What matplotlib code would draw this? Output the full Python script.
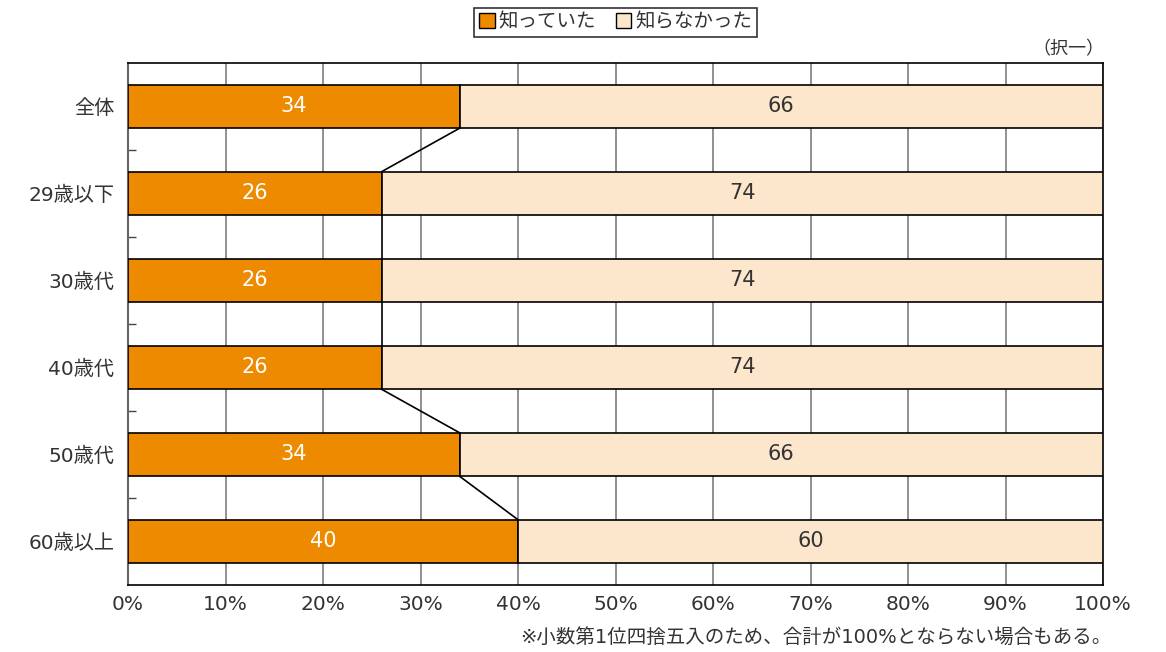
import numpy as np
import matplotlib
matplotlib.use("Agg")
import matplotlib.pyplot as plt
from matplotlib.patches import Patch

plt.rcParams['font.family'] = ['DejaVu Sans', 'Noto Sans CJK JP']

categories = ["全体", "29歳以下", "30歳代", "40歳代", "50歳代", "60歳以上"]
knew = [34, 26, 26, 26, 34, 40]
not_knew = [66, 74, 74, 74, 66, 60]
series_names = ["知っていた", "知らなかった"]
x_ticks = [0, 10, 20, 30, 40, 50, 60, 70, 80, 90, 100]

c_knew = "#EE8A00"
c_not = "#FCE6CC"
text_col = "#333333"

fig = plt.figure(figsize=(11.66, 6.52), dpi=100)
ax = fig.add_axes([0.1098, 0.1028, 0.8362, 0.8006])

y = np.arange(len(categories))
h = 0.5
ax.barh(y, knew, height=h, color=c_knew, edgecolor="black", linewidth=1.2, zorder=3)
ax.barh(y, not_knew, left=knew, height=h, color=c_not, edgecolor="black", linewidth=1.2, zorder=3)

for i in range(len(categories)):
    ax.text(knew[i] / 2, y[i], str(knew[i]), ha="center", va="center",
            color="white", fontsize=15, zorder=4)
    ax.text(knew[i] + not_knew[i] / 2, y[i], str(not_knew[i]), ha="center", va="center",
            color=text_col, fontsize=15, zorder=4)

# lines joining the boundaries of neighbouring bars
for i in range(len(categories) - 1):
    ax.plot([knew[i], knew[i + 1]], [y[i] + h / 2, y[i + 1] - h / 2],
            color="black", linewidth=1.2, zorder=4)

ax.set_xlim(0, 100)
ax.set_ylim(len(categories) - 0.5, -0.5)
ax.set_xticks(x_ticks)
ax.set_xticklabels([f"{v}%" for v in x_ticks], fontsize=14.5, color=text_col)
ax.tick_params(axis="x", length=0, pad=7)
ax.set_yticks(y)
ax.set_yticklabels(categories, fontsize=14.5, color=text_col)
ax.tick_params(axis="y", which="major", length=0, pad=10)
ax.set_yticks(np.arange(0.5, len(categories) - 1, 1), minor=True)
ax.tick_params(axis="y", which="minor", direction="in", length=6, width=1, color="#444444")

ax.grid(axis="x", color="#888888", linewidth=1.3, zorder=0)
for s in ax.spines.values():
    s.set_color("black")
    s.set_linewidth(1.2)
ax.spines["left"].set_color("#666666")
ax.spines["left"].set_linewidth(1.5)

handles = [Patch(facecolor=c_knew, edgecolor="black"), Patch(facecolor=c_not, edgecolor="black")]
leg = fig.legend(handles, series_names, loc="center", bbox_to_anchor=(0.528, 0.966), ncol=2,
                 frameon=True, fancybox=False, fontsize=14, handlelength=0.8, handleheight=0.8,
                 handletextpad=0.2, columnspacing=1.0, borderpad=0.25, edgecolor="black")
leg.get_frame().set_linewidth(1.2)
for t in leg.get_texts():
    t.set_color(text_col)

fig.text(0.947, 0.924, "（択一）", ha="right", va="center", fontsize=13, color=text_col)
fig.text(0.953, 0.022, "※小数第1位四捨五入のため、合計が100%とならない場合もある。",
         ha="right", va="center", fontsize=14, color=text_col)

fig.savefig("out.png", dpi=100)
